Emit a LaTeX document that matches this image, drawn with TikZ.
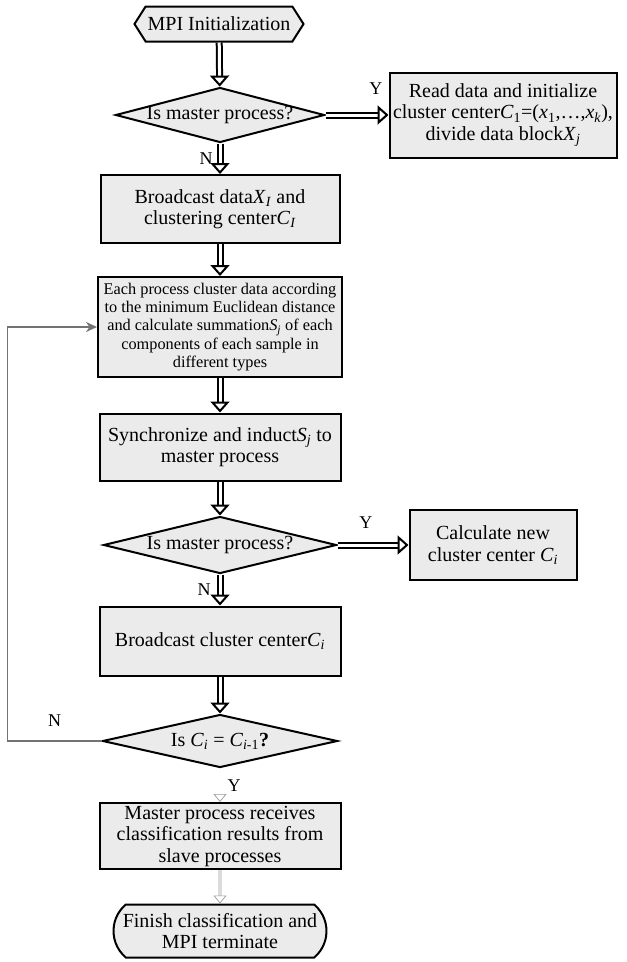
\documentclass[tikz,border=0pt]{standalone}
\usepackage{fontspec}
\setmainfont{Liberation Serif}
\usetikzlibrary{shapes,arrows.meta,positioning}

\newcommand{\vsub}[2]{\textit{#1}\textsubscript{\textit{#2}}}

\begin{document}
\begin{tikzpicture}[
    x=1pt, y=-1pt,
    box/.style={rectangle, draw, line width=2pt, fill=black!8, align=center, inner sep=2pt, font=\fontsize{20}{21.5}\selectfont},
    decision/.style={diamond, draw, line width=2pt, fill=black!8, inner sep=0pt, font=\fontsize{20}{21.5}\selectfont},
    startnode/.style={signal, signal to=west and east, signal pointer angle=115, draw, line width=2pt, fill=black!8, inner sep=2pt, font=\fontsize{20}{21.5}\selectfont},
    endnode/.style={rounded rectangle, rounded rectangle arc length=100, draw, line width=2pt, fill=black!8, align=center, inner sep=2pt, font=\fontsize{20}{21.5}\selectfont},
    dblarrow/.style={double, double distance=3pt, line width=2pt, -{Triangle[open, length=11pt, width=19pt]}},
    thinarrow/.style={draw=black!40, double=white, double distance=1.2pt, line width=0.7pt, -{Triangle[open, length=8pt, width=13pt]}},
    backarrow/.style={draw=black!55, line width=1.8pt, -{Stealth[length=11pt, width=10pt]}},
    yn/.style={font=\fontsize{18}{20}\selectfont}
]
\useasboundingbox (0,0) rectangle (627,962);

% Start
\node[startnode, minimum width=168pt, minimum height=35pt] (init) at (219,24) {MPI Initialization};

% First check and master branch
\node[decision, minimum width=209pt, minimum height=55pt] (q1) at (220,115) {\makebox[0pt]{Is master process?}};
\node[box, minimum width=227pt, minimum height=85pt] (read) at (503,115) {
    Read data and initialize\\
    cluster center\textit{C}\textsubscript{1}=(\textit{x}\textsubscript{1},\ldots,\textit{x}\textsubscript{\textit{k}}),\\
    divide data block\vsub{X}{j}
};

% Broadcast and local clustering
\node[box, minimum width=239pt, minimum height=68pt] (bcast) at (220,209) {
    Broadcast data\vsub{X}{I} and\\
    clustering center\vsub{C}{I}
};
\node[box, minimum width=244pt, minimum height=100pt, font=\fontsize{16.3}{18.3}\selectfont] (each) at (220,327) {
    Each process cluster data according\\
    to the minimum Euclidean distance\\
    and calculate summation\vsub{S}{j} of each\\
    components of each sample in\\
    different types
};
\node[box, minimum width=241pt, minimum height=67pt] (sync) at (220,447) {
    Synchronize and induct\vsub{S}{j} to\\
    master process
};

% Second check
\node[decision, minimum width=233pt, minimum height=57pt] (q2) at (220,545) {\makebox[0pt]{Is master process?}};
\node[box, minimum width=167pt, minimum height=70pt] (calc) at (493,545) {
    Calculate new\\
    cluster center \vsub{C}{i}
};
\node[box, minimum width=241pt, minimum height=69pt] (bcastc) at (220,641) {Broadcast cluster center\vsub{C}{i}};

% Convergence test
\node[decision, minimum width=235pt, minimum height=53pt] (q3) at (220,741) {\makebox[0pt]{Is \vsub{C}{i} = \textit{C}\textsubscript{\textit{i}-1}\textbf{?}}};
\node[box, minimum width=241pt, minimum height=66pt] (recv) at (220,836) {
    Master process receives\\
    classification results from\\
    slave processes
};

% End
\node[endnode, minimum width=217pt, minimum height=53pt] (finish) at (220,931) {
    Finish classification and\\
    MPI terminate
};

% Main flow
\draw[dblarrow] (init) -- (q1);
\draw[dblarrow] (q1) -- (read) node[yn, pos=0.8, above=16pt] {Y};
\draw[dblarrow] (q1) -- (bcast) node[yn, midway, left=3pt] {N};
\draw[dblarrow] (bcast) -- (each);
\draw[dblarrow] (each) -- (sync);
\draw[dblarrow] (sync) -- (q2);
\draw[dblarrow] (q2) -- (calc) node[yn, pos=0.4, above=12pt] {Y};
\draw[dblarrow] (q2) -- (bcastc) node[yn, midway, left=5pt] {N};
\draw[dblarrow] (bcastc) -- (q3);
\draw[thinarrow] (q3) -- (recv) node[yn, midway, right=4pt] {Y};
\draw[thinarrow] (recv) -- (finish);

% Loop back when not converged
\draw[backarrow] (q3.west) -- ++(-94,0) node[yn, midway, above=10pt] {N} |- (each.west);

\end{tikzpicture}
\end{document}
